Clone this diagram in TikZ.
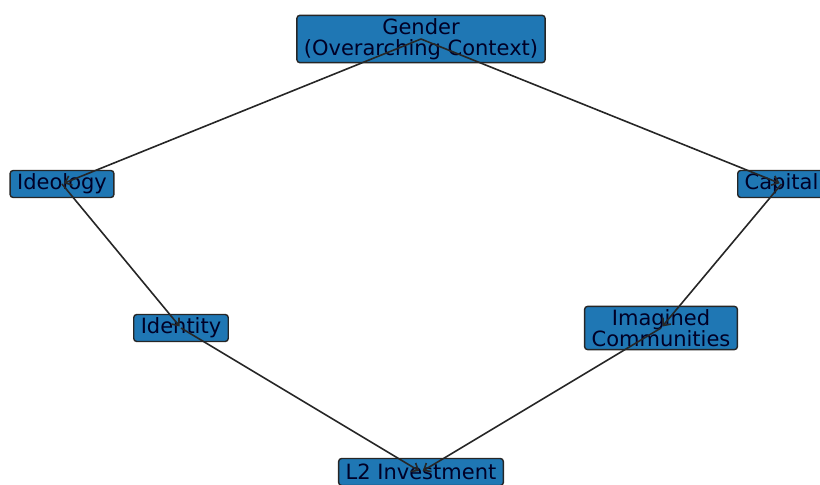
\documentclass[tikz,border=0pt]{standalone}
\usepackage{fontspec}
\setmainfont{DejaVu Sans}
\usetikzlibrary{arrows.meta}

\begin{document}
\begin{tikzpicture}[x=1pt, y=-1pt,
    box/.style={draw=black!85, fill={rgb,255:red,31;green,119;blue,180}, rounded corners=3pt, line width=1.4pt, font=\fontsize{21}{21}\selectfont, text=black!85!blue, align=center, inner xsep=7pt, inner ysep=3pt, minimum height=27pt},
    link/.style={draw=black!85, line width=1.6pt, -{Straight Barb[length=6pt,width=10pt]}, shorten >=2pt}]

\useasboundingbox (0,0) rectangle (820,485);

\node[box] (gender) at (421,39) {Gender\\(Overarching Context)};
\node[box] (ideology) at (62,184) {Ideology};
\node[box, anchor=west] (capital) at (737,184) {Capital};
\node[box] (identity) at (181,328) {Identity};
\node[box] (imagined) at (661,328) {Imagined\\Communities};
\node[box] (invest) at (421,472) {L2 Investment};

\draw[link] (gender.center) -- (ideology.center);
\draw[link] (gender.center) -- (capital.center);
\draw[link] (ideology.center) -- (identity.center);
\draw[link] (capital.center) -- (imagined.center);
\draw[link] (identity.center) -- (invest.center);
\draw[link] (imagined.center) -- (invest.center);
\end{tikzpicture}
\end{document}
